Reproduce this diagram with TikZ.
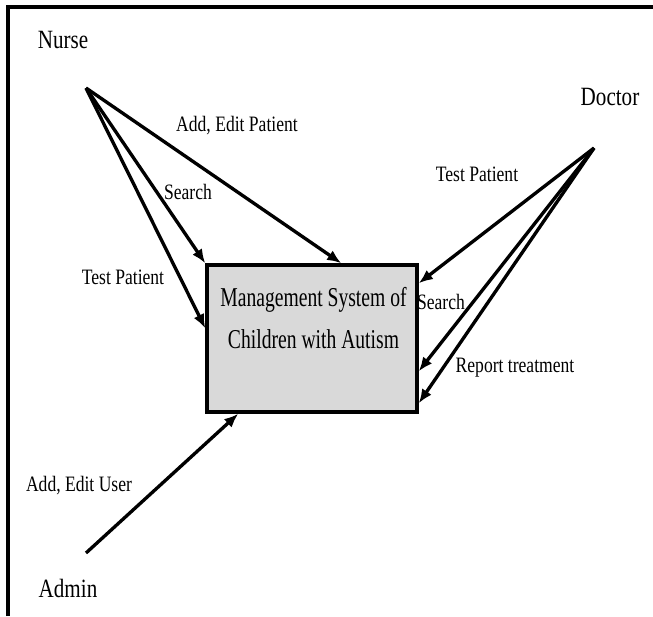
\documentclass[tikz,border=0pt]{standalone}
\usepackage{fontspec}
\setmainfont[FakeStretch=0.8]{Liberation Serif}
\newfontfamily\boxfont[FakeStretch=0.72]{Liberation Serif}
\usetikzlibrary{arrows.meta}
\tikzset{
  flow/.style={line width=1.9pt, -{Latex[length=8pt,width=6.5pt]}},
  actor/.style={font=\fontsize{15}{18}\selectfont},
  lbl/.style={font=\fontsize{12.5}{15}\selectfont},
}
\begin{document}
\begin{tikzpicture}
      \useasboundingbox (0,0) rectangle (13.06,-12.32);
      % frame, top and left only
      \draw[line width=1.8pt] (0.16,-12.32)--(0.16,-0.14)--(13.06,-0.14);

      % the system
      \node[draw, line width=2pt, fill=gray!30, minimum width=4.2cm, minimum height=2.94cm] (sys) at (6.24,-6.77) {};
      \node[font=\boxfont\fontsize{15.5}{24}\selectfont, align=center, anchor=north] (systxt) at (6.27,-5.62)
        {Management System of\\Children with Autism};

      % actors
      \node[actor] (nurselbl) at (1.26,-0.8) {Nurse};
      \node[actor] (doctorlbl) at (12.2,-1.94) {Doctor};
      \node[actor] (adminlbl) at (1.36,-11.76) {Admin};
      \coordinate (nurse) at (1.72,-1.76);
      \coordinate (doctor) at (11.88,-2.96);
      \coordinate (admin) at (1.72,-11.06);

      % nurse
      \draw[flow] (nurse) -- ([xshift=2.72cm]sys.north west);
      \draw[flow] (nurse) -- (sys.north west);
      \draw[flow] (nurse) -- ([yshift=-1.3cm]sys.north west);
      \node[lbl] (nadd) at (4.74,-2.52) {Add, Edit Patient};
      \node[lbl] (nsearch) at (3.76,-3.84) {Search};
      \node[lbl] (ntest) at (2.46,-5.54) {Test Patient};

      % doctor
      \draw[flow] (doctor) -- ([yshift=-0.4cm]sys.north east);
      \draw[flow] (doctor) -- ([yshift=-2.16cm]sys.north east);
      \draw[flow] (doctor) -- ([yshift=-2.8cm]sys.north east);
      \node[lbl] (dtest) at (9.54,-3.48) {Test Patient};
      \node[lbl] (dsearch) at (8.82,-6.04) {Search};
      \node[lbl] (dreport) at (10.3,-7.36) {Report treatment};

      % admin
      \draw[flow] (admin) -- ([xshift=0.66cm]sys.south west);
      \node[lbl] (aadd) at (1.58,-9.72) {Add, Edit User};
\end{tikzpicture}
\end{document}
